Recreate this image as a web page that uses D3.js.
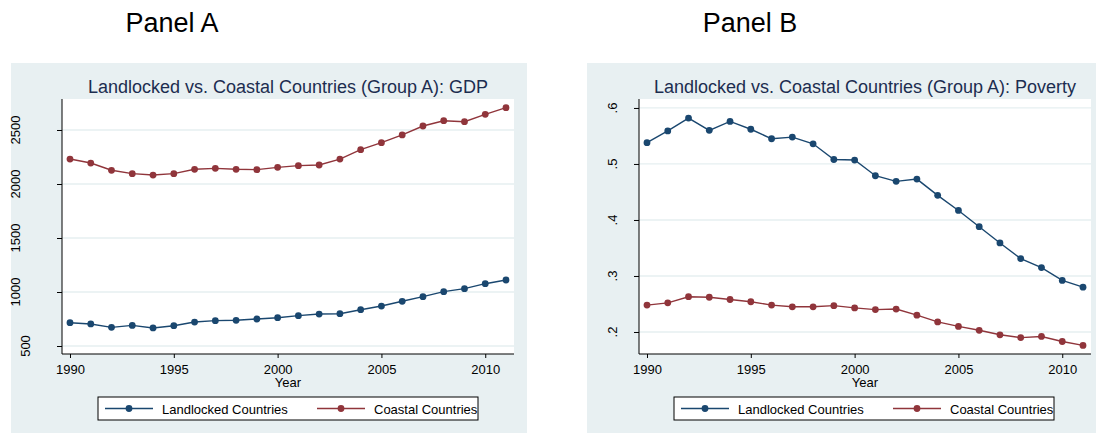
<!DOCTYPE html>
<html>
<head>
<meta charset="utf-8">
<script src="https://cdn.jsdelivr.net/npm/d3@7/dist/d3.min.js"></script>
<style>
  body { margin: 0; background: #ffffff; }
  svg { display: block; font-family: "Liberation Sans", Arial, sans-serif; }
</style>
</head>
<body>
<div id="chart"></div>
<script>
// values
const years = [1990, 1991, 1992, 1993, 1994, 1995, 1996, 1997, 1998, 1999, 2000,
  2001, 2002, 2003, 2004, 2005, 2006, 2007, 2008, 2009, 2010, 2011];

const gdpLandlocked = [716, 704, 673, 691, 667, 688, 722, 735, 738, 750, 762,
  781, 796, 799, 836, 870, 914, 957, 1003, 1031, 1077, 1111];
const gdpCoastal = [2231, 2194, 2127, 2096, 2083, 2096, 2136, 2145, 2136, 2133, 2154,
  2170, 2176, 2231, 2318, 2383, 2454, 2537, 2586, 2577, 2645, 2707];

const povLandlocked = [0.538, 0.559, 0.582, 0.560, 0.576, 0.562, 0.545, 0.548, 0.536, 0.508, 0.507,
  0.479, 0.469, 0.473, 0.444, 0.417, 0.388, 0.359, 0.331, 0.315, 0.292, 0.280];
const povCoastal = [0.248, 0.252, 0.263, 0.262, 0.258, 0.254, 0.248, 0.245, 0.245, 0.247, 0.243,
  0.240, 0.241, 0.230, 0.218, 0.210, 0.203, 0.195, 0.190, 0.192, 0.183, 0.176];

const yearTicks = [1990, 1995, 2000, 2005, 2010];
const gdpTicks = [500, 1000, 1500, 2000, 2500];
const gdpTickLabels = ['500', '1000', '1500', '2000', '2500'];
const povTicks = [0.2, 0.3, 0.4, 0.5, 0.6];
const povTickLabels = ['.2', '.3', '.4', '.5', '.6'];

const seriesNames = ['Landlocked Countries', 'Coastal Countries'];
const seriesColors = ['#1a476f', '#90353b'];

const W = 1096, H = 434;
const bgColor = '#e8f0f2';

const svg = d3.select('#chart').append('svg')
  .attr('width', W)
  .attr('height', H);

// drawPanel()
// one Stata-style graph: header, background, plot region, axes, two series, legend
function drawPanel(p) {
  svg.append('text')
    .attr('x', p.headerX)
    .attr('y', 32)
    .attr('text-anchor', 'middle')
    .style('font-size', '27px')
    .style('fill', '#000')
    .text(p.header);

  svg.append('rect')
    .attr('x', p.bg[0]).attr('y', p.bg[1])
    .attr('width', p.bg[2]).attr('height', p.bg[3])
    .style('fill', bgColor);

  const x = d3.scaleLinear().domain([1989.615, 2011.385]).range([p.left, p.right]);
  const y = d3.scaleLinear().domain(p.yDomain).range([p.bottom, p.top]);

  svg.append('rect')
    .attr('x', p.left).attr('y', p.top)
    .attr('width', p.right - p.left).attr('height', p.bottom - p.top)
    .style('fill', '#fff');

  // gridlines
  svg.append('g').selectAll('line')
    .data(p.yTicks)
    .enter()
    .append('line')
    .attr('x1', p.left).attr('x2', p.right)
    .attr('y1', d => y(d)).attr('y2', d => y(d))
    .style('stroke', '#e6eff1')
    .style('stroke-width', 1.3);

  // title
  svg.append('text')
    .attr('x', (p.left + p.right) / 2)
    .attr('y', 93)
    .attr('text-anchor', 'middle')
    .style('font-size', '18px')
    .style('fill', '#1c2d50')
    .text(p.title);

  // x axis
  const xAxis = svg.append('g')
    .attr('transform', 'translate(0,' + p.bottom + ')')
    .call(d3.axisBottom(x).tickValues(yearTicks).tickFormat(d3.format('d')).tickSize(4).tickSizeOuter(0));
  xAxis.select('.domain').style('stroke', '#000').attr('d', 'M' + p.left + ',0H' + p.right);
  xAxis.selectAll('.tick line').style('stroke', '#000');
  xAxis.selectAll('.tick text')
    .attr('y', 20)
    .attr('dy', null)
    .style('font-size', '13px')
    .style('font-family', '"Liberation Sans", Arial, sans-serif')
    .style('fill', '#000');

  svg.append('text')
    .attr('x', (p.left + p.right) / 2)
    .attr('y', 387)
    .attr('text-anchor', 'middle')
    .style('font-size', '13px')
    .style('fill', '#000')
    .text('Year');

  // y axis, labels vertical like Stata
  const yAxis = svg.append('g')
    .attr('transform', 'translate(' + p.left + ',0)')
    .call(d3.axisLeft(y).tickValues(p.yTicks).tickSize(5).tickSizeOuter(0).tickFormat(''));
  yAxis.select('.domain').style('stroke', '#000').attr('d', 'M0,' + p.top + 'V' + p.bottom);
  yAxis.selectAll('.tick line').style('stroke', '#000');

  svg.append('g').selectAll('text')
    .data(p.yTicks)
    .enter()
    .append('text')
    .attr('transform', (d, i) => {
      const cx = p.left - 7 - 10 * p.yTickLabels[i].length;
      return 'translate(' + cx + ',' + y(d) + ') rotate(-90)';
    })
    .attr('text-anchor', 'middle')
    .attr('dominant-baseline', 'central')
    .style('font-size', '13px')
    .style('fill', '#000')
    .text((d, i) => p.yTickLabels[i]);

  // series
  const line = d3.line().x(d => x(d[0])).y(d => y(d[1]));
  p.series.forEach((vals, s) => {
    const pts = years.map((yr, i) => [yr, vals[i]]);
    svg.append('path')
      .datum(pts)
      .attr('d', line)
      .style('fill', 'none')
      .style('stroke', seriesColors[s])
      .style('stroke-width', 1.4);
    svg.append('g').selectAll('circle')
      .data(pts)
      .enter()
      .append('circle')
      .attr('cx', d => x(d[0]))
      .attr('cy', d => y(d[1]))
      .attr('r', 3.4)
      .style('fill', seriesColors[s]);
  });

  // legend
  const lg = svg.append('g').attr('transform', 'translate(' + p.legendX + ',397)');
  lg.append('rect')
    .attr('x', 0).attr('y', 0)
    .attr('width', 380).attr('height', 23)
    .style('fill', '#fff')
    .style('stroke', '#000')
    .style('stroke-width', 1);
  seriesNames.forEach((name, s) => {
    const ox = 7 + s * 212;
    lg.append('line')
      .attr('x1', ox).attr('x2', ox + 48)
      .attr('y1', 11.5).attr('y2', 11.5)
      .style('stroke', seriesColors[s])
      .style('stroke-width', 1.4);
    lg.append('circle')
      .attr('cx', ox + 24).attr('cy', 11.5)
      .attr('r', 3.4)
      .style('fill', seriesColors[s]);
    lg.append('text')
      .attr('x', ox + 57).attr('y', 16.5)
      .style('font-size', '13px')
      .style('fill', '#000')
      .text(name);
  });
}

drawPanel({
  header: 'Panel A', headerX: 172,
  bg: [11, 63, 516, 370],
  left: 62, right: 514, top: 99, bottom: 354,
  yDomain: [426, 2787],
  yTicks: gdpTicks, yTickLabels: gdpTickLabels,
  title: 'Landlocked vs. Coastal Countries (Group A): GDP',
  series: [gdpLandlocked, gdpCoastal],
  legendX: 98,
});

drawPanel({
  header: 'Panel B', headerX: 750,
  bg: [587, 63, 509, 370],
  left: 639, right: 1091, top: 99, bottom: 354,
  yDomain: [0.1607, 0.616],
  yTicks: povTicks, yTickLabels: povTickLabels,
  title: 'Landlocked vs. Coastal Countries (Group A): Poverty',
  series: [povLandlocked, povCoastal],
  legendX: 674,
});
</script>
</body>
</html>
